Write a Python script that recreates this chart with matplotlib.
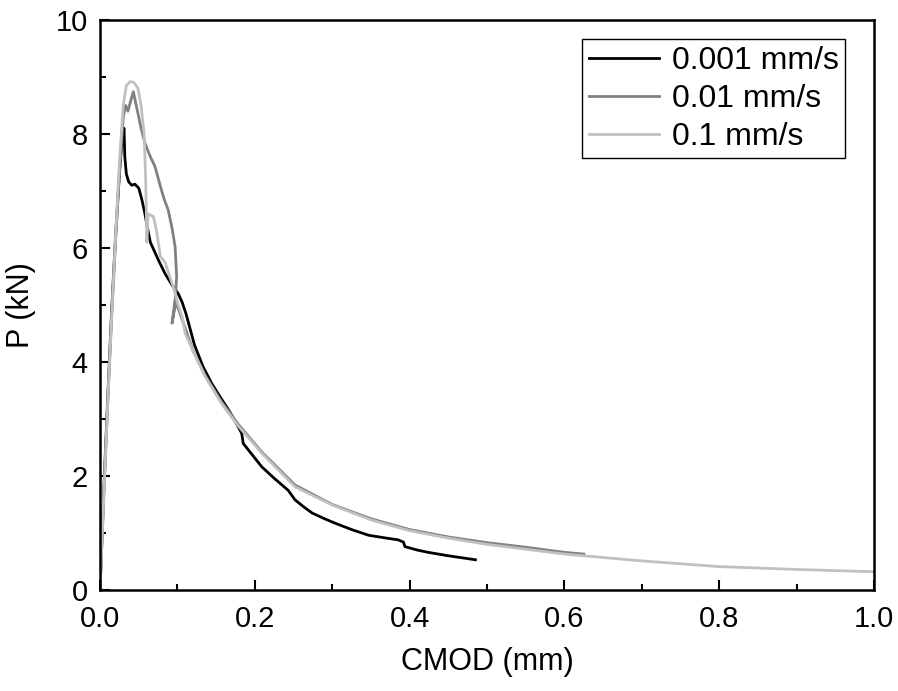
import matplotlib.pyplot as plt
from matplotlib.ticker import MultipleLocator

plt.rcParams['font.family'] = ['Liberation Sans', 'DejaVu Sans']

# 0.001 mm/s
cmod_slow = [0.0, 0.005, 0.010, 0.015, 0.020, 0.025, 0.029, 0.031, 0.032, 0.034,
             0.037, 0.041, 0.045, 0.050, 0.054, 0.058, 0.062, 0.065, 0.070, 0.075,
             0.084, 0.093, 0.101, 0.106, 0.111, 0.116, 0.122, 0.133, 0.144, 0.155,
             0.166, 0.175, 0.183, 0.185, 0.195, 0.209, 0.225, 0.243, 0.252, 0.263,
             0.274, 0.290, 0.304, 0.325, 0.347, 0.370, 0.385, 0.392, 0.394, 0.410,
             0.424, 0.450, 0.485]
p_slow = [0.0, 1.8, 3.4, 4.9, 6.2, 7.3, 8.0, 8.1, 7.6, 7.3,
          7.16, 7.1, 7.12, 7.05, 6.85, 6.6, 6.3, 6.1, 5.95, 5.8,
          5.55, 5.35, 5.2, 5.05, 4.85, 4.6, 4.3, 3.92, 3.63, 3.39,
          3.16, 2.95, 2.75, 2.57, 2.4, 2.16, 1.96, 1.75, 1.58, 1.46,
          1.35, 1.25, 1.17, 1.06, 0.96, 0.91, 0.88, 0.84, 0.76, 0.70,
          0.66, 0.60, 0.53]

# 0.01 mm/s
cmod_mid = [0.0, 0.005, 0.010, 0.015, 0.020, 0.025, 0.030, 0.033, 0.036, 0.040,
            0.043, 0.046, 0.049, 0.053, 0.058, 0.065, 0.071, 0.078, 0.083, 0.088,
            0.093, 0.097, 0.099, 0.0975, 0.093, 0.098, 0.106, 0.120, 0.136, 0.157,
            0.179, 0.209, 0.252, 0.300, 0.350, 0.400, 0.450, 0.500, 0.550, 0.600,
            0.625]
p_mid = [0.0, 1.7, 3.3, 4.8, 6.1, 7.3, 8.3, 8.5, 8.4, 8.6,
         8.74, 8.55, 8.36, 8.1, 7.84, 7.6, 7.43, 7.08, 6.85, 6.67,
         6.35, 6.02, 5.5, 5.15, 4.68, 5.05, 4.75, 4.2, 3.76, 3.3,
         2.9, 2.42, 1.84, 1.5, 1.25, 1.06, 0.93, 0.83, 0.75, 0.66,
         0.63]

# 0.1 mm/s
cmod_fast = [0.0, 0.005, 0.010, 0.015, 0.020, 0.025, 0.030, 0.034, 0.039, 0.044,
             0.049, 0.053, 0.057, 0.059, 0.060, 0.0605, 0.062, 0.069, 0.073, 0.078,
             0.084, 0.090, 0.095, 0.101, 0.106, 0.110, 0.120, 0.136, 0.157, 0.179,
             0.209, 0.252, 0.300, 0.350, 0.400, 0.450, 0.500, 0.600, 0.700, 0.800,
             0.900, 1.000]
p_fast = [0.0, 1.7, 3.3, 4.8, 6.2, 7.5, 8.5, 8.85, 8.92, 8.9,
          8.8, 8.5, 8.0, 7.2, 6.5, 6.1, 6.6, 6.55, 6.3, 5.85,
          5.75, 5.5, 5.3, 5.0, 4.8, 4.5, 4.2, 3.74, 3.27, 2.87,
          2.40, 1.81, 1.49, 1.23, 1.04, 0.91, 0.80, 0.63, 0.51, 0.41,
          0.36, 0.32]

fig = plt.figure(figsize=(8.98, 6.91), dpi=100)
ax = fig.add_axes([0.1114, 0.1462, 0.8619, 0.8249])

ax.plot(cmod_slow, p_slow, color='black', lw=2, label='0.001 mm/s')
ax.plot(cmod_mid, p_mid, color='#808080', lw=2, label='0.01 mm/s')
ax.plot(cmod_fast, p_fast, color='#c0c0c0', lw=2, label='0.1 mm/s')

ax.set_xlim(0, 1.0)
ax.set_ylim(0, 10)
ax.xaxis.set_major_locator(MultipleLocator(0.2))
ax.xaxis.set_minor_locator(MultipleLocator(0.1))
ax.yaxis.set_major_locator(MultipleLocator(2))
ax.yaxis.set_minor_locator(MultipleLocator(1))
ax.tick_params(which='both', direction='in', top=False, right=False,
               labelsize=21, width=1.5)
ax.tick_params(which='major', length=7)
ax.tick_params(which='minor', length=4)
ax.tick_params(axis='x', which='major', pad=11)
ax.tick_params(axis='y', which='major', pad=9)
for s in ax.spines.values():
    s.set_linewidth(1.8)

ax.set_xlabel('CMOD (mm)', fontsize=22, labelpad=10)
ax.set_ylabel('P (kN)', fontsize=22, labelpad=14)

leg = ax.legend(loc='upper right', bbox_to_anchor=(0.9625, 0.966), fontsize=23,
                fancybox=False, edgecolor='black', framealpha=1,
                handlelength=2.2, handletextpad=0.4, borderpad=0.2,
                labelspacing=0.25, borderaxespad=0)
leg.get_frame().set_linewidth(1.0)

plt.savefig('out.png', dpi=100)
